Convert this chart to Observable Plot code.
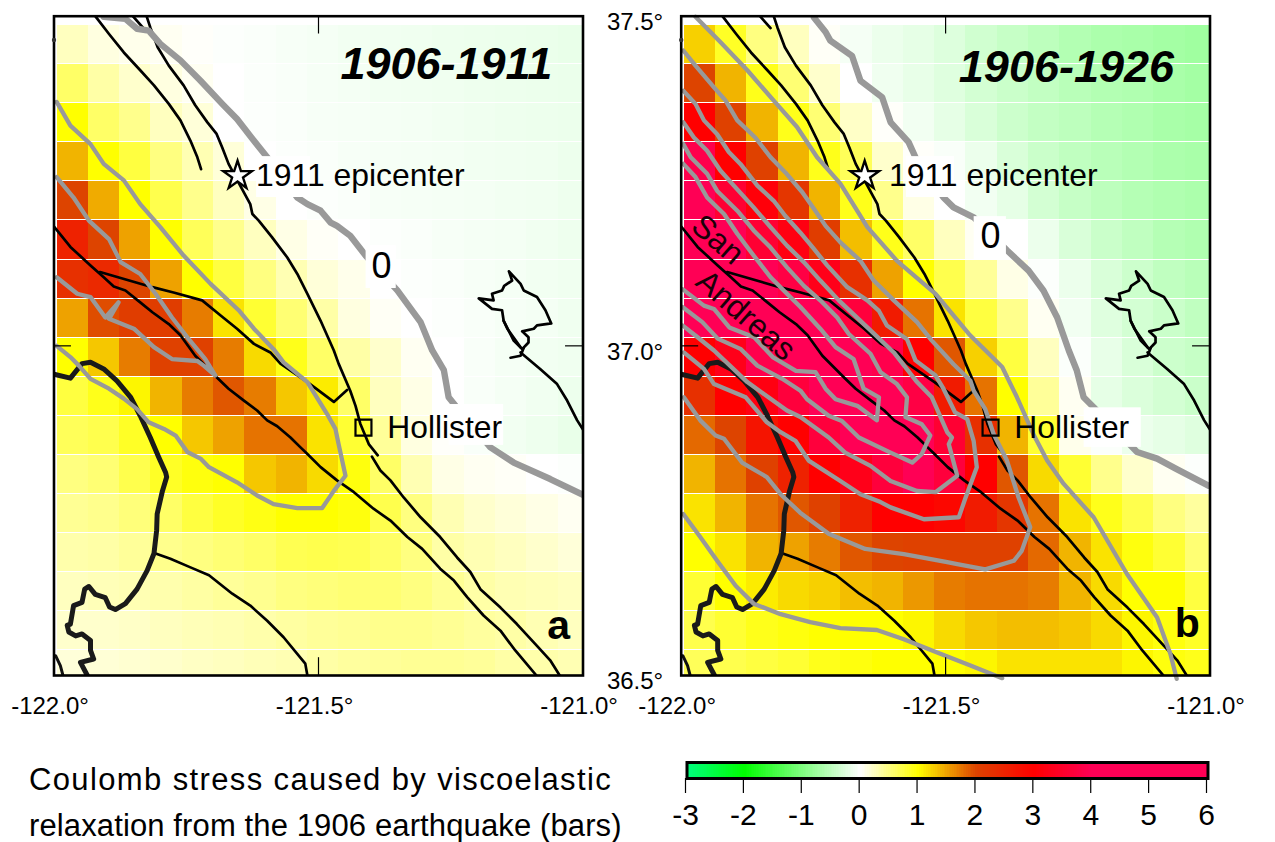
<!DOCTYPE html>
<html><head><meta charset="utf-8">
<script src="https://cdn.jsdelivr.net/npm/d3@7"></script>
<script src="https://cdn.jsdelivr.net/npm/@observablehq/plot@0.6"></script>
<style>html,body{margin:0;background:#fff}#w{position:relative;width:1275px;height:842px;overflow:hidden;font-family:"Liberation Sans",sans-serif}
#w svg{position:absolute;overflow:visible}
.cap{position:absolute;left:29px;font-size:31px;line-height:47px;white-space:nowrap;color:#000}</style>
</head><body><div id="w"></div>
<script>
// Grid of modelled Coulomb stress (bars), rows north to south, columns west to east
const gridWest=-121.9943, gridNorth=37.486, gridDx=0.0592, gridDy=0.0593;
const stress1911=[
[.25,.12,.08,.05,.02,-.02,-.04,-.06,-.08,-.1,-.11,-.12,-.13,-.14,-.15,-.16,-.17],
[.6,.35,.2,.12,.05,0,-.03,-.05,-.07,-.09,-.1,-.11,-.12,-.13,-.14,-.15,-.16],
[1,.6,.45,.25,.15,0,-.02,-.04,-.06,-.07,-.08,-.09,-.1,-.12,-.13,-.14,-.15],
[1.4,1,.75,.5,.3,.15,0,-.02,-.04,-.06,-.07,-.08,-.09,-.1,-.11,-.12,-.14],
[2,1.45,1,.7,.45,.25,.1,0,-.02,-.04,-.06,-.07,-.08,-.09,-.1,-.11,-.13],
[2.5,2,1.5,1,.65,.45,.25,.1,.03,0,-.02,-.04,-.06,-.08,-.09,-.11,-.13],
[2.3,2.4,2,1.5,1,.75,.5,.3,.15,.08,0,-.02,-.04,-.06,-.08,-.1,-.12],
[1.5,1.95,2.1,2.1,1.7,1.15,.8,.55,.35,.12,.04,0,-.02,-.05,-.07,-.09,-.12],
[1,1.3,1.7,2.05,2.05,1.7,1.2,.9,.6,.35,.2,.05,0,-.05,-.08,-.1,-.12],
[.75,.9,1.05,1.4,1.7,1.9,1.7,1.3,1.1,.6,.25,.1,0,-.05,-.08,-.11,-.14],
[.65,.7,.85,1,1.3,1.5,1.75,1.75,1.15,.8,.4,.12,.02,-.05,-.1,-.13,-.17],
[.5,.55,.7,.85,.95,1,1.3,1.4,1.2,.95,.6,.3,.1,.05,.03,0,-.02],
[.42,.45,.52,.6,.75,.85,.92,1,1,.95,.7,.5,.3,.2,.15,.1,.05],
[.33,.35,.4,.45,.5,.55,.6,.68,.7,.68,.6,.5,.35,.3,.25,.2,.15],
[.25,.28,.3,.32,.36,.4,.44,.5,.52,.55,.55,.5,.42,.35,.3,.28,.25],
[.2,.2,.22,.25,.28,.3,.33,.37,.4,.42,.45,.45,.42,.38,.35,.3,.25],
[.15,.16,.18,.2,.23,.25,.28,.3,.35,.38,.4,.42,.42,.4,.35,.33,.3]];
const stress1926=[
[1.25,.85,.5,.25,.03,-.08,-.15,-.2,-.27,-.37,-.45,-.52,-.6,-.65,-.68,-.72,-.75],
[2,1.4,.9,.55,.2,0,-.12,-.18,-.25,-.35,-.42,-.48,-.55,-.6,-.62,-.68,-.72],
[3,2.05,1.4,.9,.55,.22,.02,-.1,-.2,-.3,-.4,-.47,-.52,-.58,-.62,-.68,-.7],
[3.9,3,2.05,1.4,.9,.65,.2,.02,-.05,-.15,-.3,-.42,-.5,-.55,-.6,-.65,-.68],
[4.5,3.6,3.1,2.2,1.4,.9,.45,.1,0,-.1,-.2,-.35,-.45,-.52,-.58,-.62,-.65],
[4.5,4.5,3.6,3.2,2.1,1.35,.9,.6,.25,.05,0,-.15,-.3,-.42,-.5,-.58,-.62],
[4.5,4.5,4.5,3.8,3.3,2.3,1.5,1,.7,.4,.1,-.02,-.15,-.3,-.4,-.5,-.55],
[4.5,4.5,4.5,4.5,4.5,3.7,2.6,1.75,1.15,.75,.45,.05,-.1,-.25,-.35,-.42,-.5],
[3,3.3,3.9,4.3,4.5,4.5,3.9,3,1.9,1.25,.75,.25,-.03,-.18,-.3,-.4,-.45],
[2.3,3,3.2,3.7,4.5,4.5,4.5,3.8,2.6,1.75,1,.4,.05,-.2,-.28,-.35,-.42],
[1.8,2,2.7,3,3.7,4.2,4.3,4.3,3.6,2.3,1.4,.8,.08,-.03,-.15,-.2,-.25],
[1.4,1.75,2.05,2.5,3,3.3,3.7,4.3,3.7,3,1.9,1.2,.8,.45,.2,.05,-.02],
[1.15,1.4,1.75,1.9,2.05,2.5,3,3,2.9,2.6,2.2,1.75,1.15,.9,.7,.5,.38],
[1,1.15,1.4,1.5,1.7,1.9,2,2.05,2.05,2.05,2.05,1.8,1.4,1.15,.95,.8,.55],
[.8,1,1.1,1.2,1.25,1.35,1.4,1.55,1.7,1.75,1.75,1.7,1.4,1.2,1,1,.75],
[.7,.8,.9,.95,1,1,1,1.05,1.2,1.3,1.35,1.35,1.3,1.2,1.05,.95,.85],
[.65,.7,.75,.8,.9,.95,1,1,1,1.05,1.15,1.15,1.15,1.15,1.05,.95,.9]];

// Mapped faults, lon/lat
const faultRodgers=[[-121.922,37.5],[-121.896,37.473],[-121.868,37.445],[-121.837,37.418],[-121.811,37.395],[-121.783,37.367],[-121.761,37.342],[-121.742,37.311],[-121.729,37.286],[-121.722,37.268]];
const faultStub=[[-121.851,37.5],[-121.831,37.482]];
const faultSargentN=[[-121.825,37.5],[-121.818,37.483],[-121.804,37.453],[-121.783,37.425],[-121.755,37.395],[-121.733,37.365],[-121.710,37.339],[-121.693,37.322],[-121.682,37.301],[-121.670,37.276],[-121.648,37.243],[-121.629,37.215],[-121.625,37.2],[-121.613,37.19],[-121.588,37.165],[-121.559,37.134],[-121.54,37.109],[-121.521,37.079],[-121.496,37.038],[-121.471,36.993],[-121.462,36.973],[-121.44,36.932],[-121.43,36.909],[-121.421,36.882],[-121.405,36.851],[-121.388,36.834]];
const faultCalaverasS=[[-121.399,36.832],[-121.383,36.811],[-121.364,36.796],[-121.339,36.77],[-121.307,36.74],[-121.27,36.71],[-121.238,36.679],[-121.213,36.657],[-121.194,36.631],[-121.156,36.603],[-121.125,36.578],[-121.087,36.545],[-121.062,36.523],[-121.044,36.5]];
const faultSanAndreas=[[-122,37.181],[-121.969,37.15],[-121.931,37.122],[-121.906,37.104],[-121.887,37.09],[-121.865,37.084],[-121.837,37.066],[-121.814,37.051],[-121.783,37.033],[-121.761,37.016],[-121.733,36.985],[-121.692,36.952],[-121.67,36.935],[-121.641,36.917],[-121.616,36.902],[-121.597,36.887],[-121.578,36.878],[-121.553,36.861],[-121.534,36.846],[-121.521,36.836],[-121.496,36.816],[-121.465,36.796],[-121.433,36.778],[-121.396,36.753],[-121.364,36.735],[-121.332,36.71],[-121.304,36.692],[-121.27,36.662],[-121.244,36.644],[-121.219,36.619],[-121.188,36.591],[-121.156,36.568],[-121.128,36.538],[-121.088,36.5]];
const faultBranch=[[-121.913,37.112],[-121.814,37.089],[-121.774,37.081],[-121.72,37.069],[-121.685,37.046],[-121.654,37.026],[-121.622,37.003],[-121.591,36.99],[-121.572,36.973],[-121.521,36.945],[-121.471,36.915],[-121.446,36.933]];
const faultSouth=[[-121.808,36.685],[-121.78,36.677],[-121.742,36.664],[-121.707,36.652],[-121.663,36.624],[-121.629,36.606],[-121.597,36.583],[-121.566,36.558],[-121.525,36.518],[-121.521,36.5]];
const faultEast=[[-121.118,36.99],[-121.081,36.965],[-121.049,36.942],[-121.03,36.917],[-121.011,36.887],[-121.0,36.873]];
const faultCorner=[[-121.997,36.53],[-121.988,36.515],[-121.983,36.5]];
const reservoir=[[-121.14,37.113],[-121.118,37.094],[-121.112,37.084],[-121.087,37.074],[-121.071,37.054],[-121.06,37.034],[-121.087,37.031],[-121.093,37.026],[-121.115,37.022],[-121.103,37.013],[-121.103,37.005],[-121.115,36.995],[-121.131,37.008],[-121.15,37.038],[-121.153,37.054],[-121.172,37.056],[-121.197,37.072],[-121.169,37.069],[-121.172,37.079],[-121.153,37.084],[-121.149,37.091],[-121.134,37.099],[-121.14,37.113]];
const reservoirInner=[[-121.15,37.038],[-121.143,37.026],[-121.118,36.998]];
const reservoirTail=[[-121.137,36.982],[-121.118,36.985],[-121.112,36.997]];
const coast=[[-122,36.957],[-121.969,36.951],[-121.947,36.973],[-121.931,36.975],[-121.906,36.965],[-121.881,36.947],[-121.855,36.922],[-121.837,36.894],[-121.818,36.861],[-121.802,36.831],[-121.789,36.808],[-121.787,36.801],[-121.795,36.78],[-121.805,36.745],[-121.806,36.72],[-121.811,36.685],[-121.824,36.659],[-121.843,36.631],[-121.865,36.609],[-121.884,36.6],[-121.895,36.604],[-121.903,36.618],[-121.922,36.623],[-121.934,36.635],[-121.942,36.631],[-121.947,36.611],[-121.963,36.606],[-121.969,36.578],[-121.975,36.576],[-121.972,36.566],[-121.959,36.56],[-121.947,36.563],[-121.931,36.553],[-121.931,36.538],[-121.925,36.525],[-121.95,36.52],[-121.937,36.5]];
const blackFaults=[faultRodgers,faultStub,faultSargentN,faultCalaverasS,faultSanAndreas,faultBranch,faultSouth,faultEast,reservoir,reservoirInner,reservoirTail];

// Stress contours, panel a
const a0=[[-121.906,37.499],[-121.865,37.496],[-121.843,37.481],[-121.821,37.478],[-121.799,37.458],[-121.761,37.433],[-121.723,37.402],[-121.682,37.367],[-121.654,37.344],[-121.622,37.311],[-121.597,37.286],[-121.54,37.225],[-121.521,37.215],[-121.496,37.205],[-121.477,37.187],[-121.465,37.182],[-121.44,37.167],[-121.411,37.137],[-121.351,37.084],[-121.307,37.036],[-121.285,36.993],[-121.263,36.963],[-121.254,36.922],[-121.241,36.909],[-121.175,36.846],[-121.131,36.823],[-121.062,36.798],[-121,36.774]];
const a1=[[-121.995,37.37],[-121.969,37.334],[-121.931,37.306],[-121.906,37.276],[-121.868,37.251],[-121.837,37.215],[-121.799,37.18],[-121.755,37.137],[-121.704,37.094],[-121.651,37.054],[-121.622,37.026],[-121.585,36.995],[-121.566,36.975],[-121.521,36.945],[-121.484,36.897],[-121.468,36.874],[-121.462,36.851],[-121.449,36.803],[-121.471,36.78],[-121.493,36.754],[-121.54,36.754],[-121.585,36.76],[-121.616,36.773],[-121.654,36.793],[-121.707,36.816],[-121.723,36.829],[-121.748,36.839],[-121.77,36.864],[-121.792,36.874],[-121.821,36.884],[-121.843,36.904],[-121.868,36.92],[-121.896,36.935],[-121.931,36.95],[-121.953,36.97],[-121.969,36.983],[-121.995,37.0]];
const a2=[[-121.995,37.256],[-121.963,37.225],[-121.934,37.19],[-121.896,37.162],[-121.874,37.127],[-121.837,37.109],[-121.808,37.079],[-121.777,37.043],[-121.748,37.013],[-121.714,36.98],[-121.695,36.955],[-121.717,36.97],[-121.729,36.977],[-121.777,36.98],[-121.811,36.998],[-121.849,37.026],[-121.896,37.041],[-121.878,37.066],[-121.903,37.043],[-121.931,37.074],[-121.956,37.079],[-121.995,37.104]];

// Stress contours, panel b
const b0=[[-121.749,37.498],[-121.727,37.476],[-121.718,37.463],[-121.677,37.44],[-121.661,37.402],[-121.62,37.377],[-121.604,37.339],[-121.57,37.309],[-121.557,37.286],[-121.504,37.225],[-121.485,37.21],[-121.447,37.195],[-121.384,37.145],[-121.343,37.114],[-121.315,37.084],[-121.289,37.043],[-121.267,36.993],[-121.252,36.963],[-121.239,36.922],[-121.22,36.907],[-121.138,36.839],[-121.1,36.829],[-121.063,36.813],[-121.003,36.788]];
const b1=[[-121.973,37.499],[-121.926,37.461],[-121.875,37.418],[-121.825,37.372],[-121.781,37.332],[-121.743,37.286],[-121.699,37.246],[-121.648,37.18],[-121.592,37.129],[-121.519,37.079],[-121.456,37.018],[-121.393,36.968],[-121.365,36.922],[-121.334,36.866],[-121.308,36.826],[-121.277,36.791],[-121.22,36.74],[-121.157,36.654],[-121.1,36.588],[-121.075,36.533],[-121.063,36.495]];
const b1South=[[-121.996,36.745],[-121.964,36.71],[-121.932,36.674],[-121.897,36.636],[-121.863,36.609],[-121.812,36.593],[-121.756,36.581],[-121.699,36.572],[-121.63,36.569],[-121.579,36.555],[-121.516,36.535],[-121.453,36.515],[-121.393,36.496]];
const c5=[[-121.996,37.448],[-121.973,37.425],[-121.938,37.392],[-121.916,37.372],[-121.894,37.342],[-121.86,37.316],[-121.831,37.286],[-121.803,37.263],[-121.771,37.233],[-121.749,37.208],[-121.727,37.182],[-121.699,37.157],[-121.661,37.129],[-121.636,37.099],[-121.598,37.069],[-121.554,37.036],[-121.526,37.008],[-121.485,36.972],[-121.453,36.947],[-121.447,36.932],[-121.425,36.904],[-121.409,36.866],[-121.384,36.826],[-121.362,36.77],[-121.34,36.725],[-121.356,36.689],[-121.371,36.674],[-121.425,36.661],[-121.478,36.669],[-121.497,36.672],[-121.579,36.684],[-121.652,36.692],[-121.721,36.715],[-121.775,36.747],[-121.812,36.775],[-121.838,36.801],[-121.885,36.823],[-121.919,36.859],[-121.935,36.864],[-121.964,36.887],[-121.995,36.922]];
const c4=[[-121.996,37.387],[-121.973,37.367],[-121.957,37.342],[-121.932,37.321],[-121.91,37.294],[-121.888,37.276],[-121.856,37.243],[-121.825,37.22],[-121.803,37.197],[-121.775,37.172],[-121.749,37.147],[-121.724,37.122],[-121.686,37.089],[-121.648,37.069],[-121.626,37.053],[-121.611,37.031],[-121.573,37.01],[-121.557,36.978],[-121.519,36.955],[-121.504,36.935],[-121.482,36.899],[-121.459,36.889],[-121.447,36.856],[-121.441,36.816],[-121.463,36.768],[-121.475,36.74],[-121.541,36.737],[-121.604,36.755],[-121.623,36.763],[-121.661,36.775],[-121.699,36.795],[-121.759,36.826],[-121.784,36.856],[-121.812,36.869],[-121.838,36.884],[-121.878,36.922],[-121.938,36.942],[-121.957,36.965],[-121.995,36.99]];
const c3=[[-121.996,37.339],[-121.976,37.316],[-121.951,37.296],[-121.926,37.266],[-121.897,37.24],[-121.863,37.21],[-121.831,37.18],[-121.8,37.152],[-121.768,37.127],[-121.737,37.099],[-121.702,37.069],[-121.648,37.028],[-121.598,36.99],[-121.554,36.945],[-121.526,36.922],[-121.497,36.869],[-121.488,36.861],[-121.494,36.851],[-121.478,36.803],[-121.519,36.778],[-121.554,36.78],[-121.604,36.795],[-121.642,36.818],[-121.69,36.838],[-121.721,36.861],[-121.7745,36.892],[-121.8,36.902],[-121.875,36.945],[-121.938,36.993],[-121.969,37.013],[-121.9975,37.031]];
const c2=[[-121.996,37.306],[-121.982,37.286],[-121.951,37.261],[-121.932,37.235],[-121.894,37.205],[-121.863,37.175],[-121.831,37.149],[-121.8,37.119],[-121.768,37.091],[-121.737,37.069],[-121.705,37.043],[-121.683,37.018],[-121.642,36.988],[-121.623,36.96],[-121.592,36.942],[-121.573,36.922],[-121.576,36.892],[-121.545,36.881],[-121.529,36.864],[-121.545,36.836],[-121.563,36.823],[-121.604,36.838],[-121.664,36.861],[-121.696,36.886],[-121.721,36.894],[-121.762,36.919],[-121.7745,36.932],[-121.809,36.95],[-121.856,36.97],[-121.887,36.995],[-121.931,37.011],[-121.96,37.036],[-121.9975,37.059]];
const c1=[[-121.996,37.276],[-121.973,37.256],[-121.951,37.225],[-121.919,37.2],[-121.894,37.17],[-121.863,37.137],[-121.831,37.104],[-121.8,37.079],[-121.7745,37.059],[-121.737,37.026],[-121.708,36.998],[-121.674,36.98],[-121.655,36.935],[-121.626,36.922],[-121.63,36.887],[-121.667,36.909],[-121.708,36.919],[-121.727,36.935],[-121.746,36.96],[-121.783,36.962],[-121.827,36.983],[-121.862,37.013],[-121.909,37.028],[-121.938,37.056],[-121.957,37.061],[-121.9975,37.086]];

// Places and labels
const epicenter=[[-121.653,37.258]];
const hollister=[[-121.415,36.876]];
const frameSpeck=[[-122,37.464]];
const tickLon=[-122,-121.5,-121], tickLat=[36.5,37,37.5], barTicks=[-3,-2,-1,0,1,2,3,4,5,6];
const colorDomain=[-3,-2,-1,0,1,2,3,4,6];
const colorRange=["#00ff80","#00ff00","#80ff80","#ffffff","#ffff00","#dd4400","#ff0000","#ff0055","#ff0055"];
const colorOpt={type:"linear",domain:colorDomain,range:colorRange,interpolate:"rgb"};
const FONT="Liberation Sans";
const panels=[
 {values:stress1911,left:0,width:640,marginLeft:53.5,marginRight:57.5,contours:[a1,a2],zero:a0,
  title:"1906-1911",titleAt:[-121.058,37.427],letter:"a",letterAt:[-121.046,36.576],
  epiAt:[-121.618,37.258],zeroAt:[-121.381,37.12],
  boxes:[[-121.617,-121.515,37.225,37.287],[-121.41,-121.353,37.087,37.152],[-121.253,-121.15,36.849,36.911]],axisY:false},
 {values:stress1926,left:590,width:685,marginLeft:90.7,marginRight:65.5,contours:[b1,b1South,c5,c4,c3,c2,c1],zero:b0,
  title:"1906-1926",titleAt:[-121.068,37.422],letter:"b",letterAt:[-121.043,36.578],
  epiAt:[-121.607,37.258],zeroAt:[-121.415,37.166],
  boxes:[[-121.574,-121.483,37.225,37.287],[-121.446,-121.385,37.131,37.196],[-121.238,-121.13,36.846,36.906]],axisY:true,
  curved:[{t:"San",at:[-121.931,37.161]},{t:"Andreas",at:[-121.878,37.046]}]}
];
const w=document.getElementById("w");
function cells(m){const out=[];m.forEach((row,r)=>row.forEach((v,c)=>out.push({v,x1:gridWest+c*gridDx,x2:gridWest+(c+1)*gridDx,y1:gridNorth-r*gridDy,y2:gridNorth-(r+1)*gridDy})));return out;}
for(const p of panels){
 const lbl=(d)=>d.toFixed(1)+"°";
 const marks=[
  Plot.rect(cells(p.values),{x1:"x1",x2:"x2",y1:"y1",y2:"y2",fill:"v",insetBottom:1,clip:true,shapeRendering:"crispEdges"}),
  ...blackFaults.map(f=>Plot.line(f,{x:d=>d[0],y:d=>d[1],stroke:"#000",strokeWidth:2.7,clip:true})),
  Plot.line(faultCorner,{x:d=>d[0],y:d=>d[1],stroke:"#111",strokeWidth:3,clip:true}),
  Plot.line(coast,{x:d=>d[0],y:d=>d[1],stroke:"#1a1a1a",strokeWidth:5,clip:true}),
  ...p.contours.map(f=>Plot.line(f,{x:d=>d[0],y:d=>d[1],stroke:"#999",strokeWidth:4.3})),
  Plot.line(p.zero,{x:d=>d[0],y:d=>d[1],stroke:"#999",strokeWidth:6.4,clip:true}),
  Plot.rect(p.boxes,{x1:d=>d[0],x2:d=>d[1],y1:d=>d[2],y2:d=>d[3],fill:"#fff"}),
  Plot.ruleX([-121.5],{y1:37.5,y2:37.473,stroke:"#000",strokeWidth:1.2}),
  Plot.ruleX([-121.5],{y1:36.5,y2:36.527,stroke:"#000",strokeWidth:1.2}),
  Plot.ruleY([37],{x1:-122,x2:-121.967,stroke:"#000",strokeWidth:1.2}),
  Plot.ruleY([37],{x1:-121.033,x2:-121,stroke:"#000",strokeWidth:1.2}),
  Plot.dot(epicenter,{x:d=>d[0],y:d=>d[1],symbol:"star",r:9,fill:"#fff",stroke:"#000",strokeWidth:2.4}),
  Plot.dot(hollister,{x:d=>d[0],y:d=>d[1],symbol:"square",r:9,fill:"none",stroke:"#000",strokeWidth:2.2}),
  Plot.text(["1911 epicenter"],{x:p.epiAt[0],y:p.epiAt[1],text:d=>d,textAnchor:"start",fontSize:31.9,fill:"#000"}),
  Plot.text(["Hollister"],{x:-121.37,y:36.875,text:d=>d,textAnchor:"start",fontSize:31.8,fill:"#000"}),
  Plot.text(["0"],{x:p.zeroAt[0],y:p.zeroAt[1],text:d=>d,fontSize:36,fill:"#000"}),
  Plot.text([p.title],{x:p.titleAt[0],y:p.titleAt[1],text:d=>d,textAnchor:"end",fontSize:45,fontWeight:"bold",fontStyle:"italic",fill:"#000"}),
  Plot.text([p.letter],{x:p.letterAt[0],y:p.letterAt[1],text:d=>d,fontSize:41,fontWeight:"bold",fill:"#000"}),
  ...(p.curved||[]).map(c=>Plot.text([c.t],{x:c.at[0],y:c.at[1],text:d=>d,fontSize:32,rotate:41,fill:"#1a0008"})),
  Plot.frame({stroke:"#000",strokeWidth:2.6}),
  Plot.dot(frameSpeck,{x:d=>d[0],y:d=>d[1],r:2.2,fill:"#333"}),
  Plot.axisX(tickLon,{tickSize:0,tickPadding:21,fontSize:24,tickFormat:lbl,dx:-4,anchor:"bottom",fill:"#000"}),
 ];
 if(p.axisY) marks.push(Plot.axisY(tickLat,{tickSize:0,tickPadding:18,fontSize:24,tickFormat:lbl,dy:6,anchor:"left",fill:"#000"}));
 else marks.push(Plot.axisY([],{anchor:"left"}));
 const svg=Plot.plot({width:p.width,height:730,marginLeft:p.marginLeft,marginRight:p.marginRight,marginTop:15.7,marginBottom:55,
  x:{domain:[-122,-121],label:null},y:{domain:[36.5,37.5],label:null},color:colorOpt,
  style:{background:"transparent",fontFamily:FONT,overflow:"visible"},marks});
 svg.style.left=p.left+"px";svg.style.top="0px";
 w.appendChild(svg);
}
// Colour bar
const barSteps=d3.range(-3,6,0.03).map(v=>({x1:v,x2:v+0.03,v:v+0.015}));
const bar=Plot.plot({width:675,height:87,marginLeft:86.5,marginRight:67.5,marginTop:7,marginBottom:64,
 x:{domain:[-3,6],label:null},color:colorOpt,style:{background:"transparent",fontFamily:FONT,overflow:"visible"},
 marks:[
  Plot.rect(barSteps,{x1:"x1",x2:"x2",fill:"v",clip:true,shapeRendering:"crispEdges"}),
  Plot.frame({stroke:"#000",strokeWidth:3}),
  Plot.axisX(barTicks,{tickSize:15,tickPadding:10,fontSize:30,tickFormat:d=>String(d),anchor:"bottom",fill:"#000",stroke:"#000",strokeWidth:1.2,textStroke:"none",dx:-1.5})
 ]});
bar.style.left="600px";bar.style.top="755px";
w.appendChild(bar);
[["Coulomb stress caused by viscoelastic",756,"1.37px"],["relaxation from the 1906 earthquake (bars)",802,"0.12px"]].forEach(([t,y,ls])=>{
 const d=document.createElement("div");d.className="cap";d.textContent=t;d.style.top=y+"px";d.style.letterSpacing=ls;w.appendChild(d);
});
</script></body></html>
